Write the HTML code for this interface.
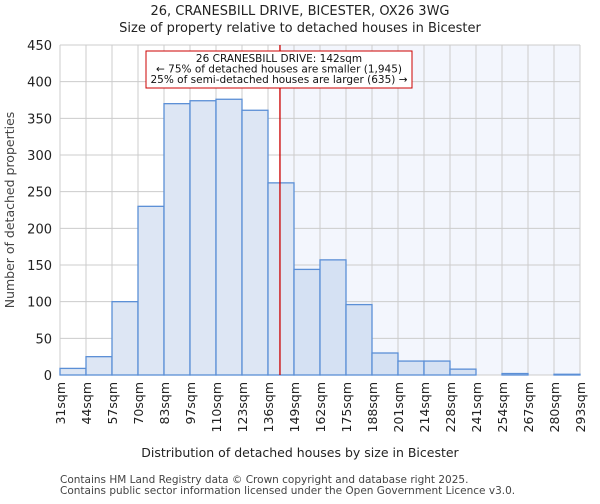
<!DOCTYPE html>
<html><head><meta charset="utf-8"><style>
body{margin:0;background:#fff;font-family:"DejaVu Sans","Liberation Sans",sans-serif}
</style></head><body>
<svg id="c" width="600" height="500" xmlns="http://www.w3.org/2000/svg" font-family="DejaVu Sans, Liberation Sans, sans-serif">
<text x="300" y="15" text-anchor="middle" font-size="13" fill="#222">26, CRANESBILL DRIVE, BICESTER, OX26 3WG</text>
<text x="300" y="32" text-anchor="middle" font-size="13" fill="#222">Size of property relative to detached houses in Bicester</text>
<g id="plot"></g>
<text x="300" y="457" text-anchor="middle" font-size="12.5" fill="#222">Distribution of detached houses by size in Bicester</text>
<text transform="translate(14,210) rotate(-90)" text-anchor="middle" font-size="12.5" fill="#444">Number of detached properties</text>
<text x="60" y="483" font-size="10.5" fill="#444">Contains HM Land Registry data © Crown copyright and database right 2025.</text>
<text x="60" y="494" font-size="10.5" fill="#444">Contains public sector information licensed under the Open Government Licence v3.0.</text>
</svg>
<script>
const binLabels=["31sqm","44sqm","57sqm","70sqm","83sqm","97sqm","110sqm","123sqm","136sqm","149sqm","162sqm","175sqm","188sqm","201sqm","214sqm","228sqm","241sqm","254sqm","267sqm","280sqm","293sqm"];
const counts=[9,25,100,230,370,374,376,361,262,144,157,96,30,19,19,8,0,2,0,1];
const yTicks=[0,50,100,150,200,250,300,350,400,450];
const markerBin=8.46;
const NS="http://www.w3.org/2000/svg";
const L=60,R=580,T=45,B=375,yMax=450;
const n=counts.length,bw=(R-L)/n;
const xS=i=>L+i*bw, yS=v=>B-(v/yMax)*(B-T);
const g=document.getElementById('plot');
function mk(t,a){const e=document.createElementNS(NS,t);for(const k in a)e.setAttribute(k,a[k]);g.appendChild(e);return e;}
const mx=xS(markerBin);
let e=mk('rect',{x:mx,y:T,width:R-mx,height:B-T,fill:'#f3f6fd'});


for(let i=0;i<=n;i++){e=mk('line',{x1:xS(i),x2:xS(i),y1:T,y2:B,stroke:'#cccccc','stroke-width':1});

}
yTicks.forEach(v=>{e=mk('line',{x1:L,x2:R,y1:yS(v),y2:yS(v),stroke:'#cccccc','stroke-width':1});


e=mk('text',{x:L-8,y:yS(v)+5,'text-anchor':'end','font-size':'13',fill:'#222'});e.textContent=v;

});
counts.forEach((c,i)=>{if(c<=0)return;
e=mk('rect',{x:xS(i),y:yS(c),width:bw,height:B-yS(c),fill:(i>=9?'#d5e1f3':'#dde6f4'),stroke:'#5b8fd6','stroke-width':1.3});

});
e=mk('line',{x1:mx,x2:mx,y1:T,y2:B,stroke:'#cc0000','stroke-width':1.3});


binLabels.forEach((s,i)=>{e=mk('text',{transform:`translate(${xS(i)+5},382) rotate(-90)`,'text-anchor':'end','font-size':'12.5',fill:'#222'});e.textContent=s;

});
e=mk('rect',{x:146,y:51,width:266,height:37,fill:'#fff',stroke:'#cc0000','stroke-width':1});


["26 CRANESBILL DRIVE: 142sqm","← 75% of detached houses are smaller (1,945)","25% of semi-detached houses are larger (635) →"].forEach((t,k)=>{
e=mk('text',{x:279,y:62+k*10.5,'text-anchor':'middle','font-size':'10.5',fill:'#111'});e.textContent=t;

});
</script>
</body></html>
